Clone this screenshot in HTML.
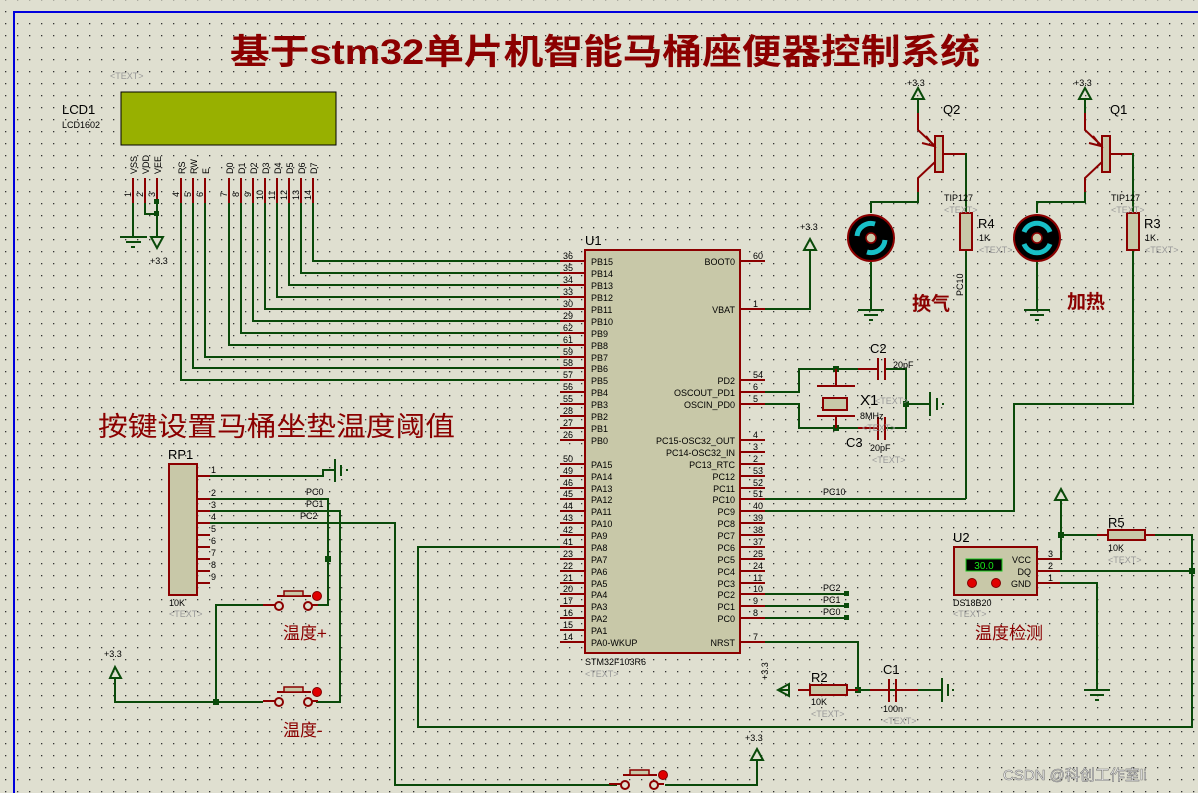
<!DOCTYPE html>
<html><head><meta charset="utf-8">
<style>
html,body{margin:0;padding:0;background:#dfdfd0;}
svg{display:block;font-family:"Liberation Sans","Noto Sans CJK SC",sans-serif;}
.w{stroke:#0a4a0a;stroke-width:2;fill:none}
.p{stroke:#8b0000;stroke-width:2;fill:none}
.t{font-size:9px;fill:#000}
.tx{font-size:9px;fill:#999}
.lb{font-size:13px;fill:#000}
.cn{fill:#8b0000}
</style></head><body>
<svg width="1198" height="793" viewBox="0 0 1198 793" xmlns="http://www.w3.org/2000/svg">
<defs>
<pattern id="g" x="5" y="-1" width="12" height="12" patternUnits="userSpaceOnUse"><rect x="0" y="0" width="1.3" height="1.3" fill="#333"/></pattern>
</defs>
<rect width="1198" height="793" fill="#dfdfd0"/>
<rect width="1198" height="793" fill="url(#g)"/>
<path d="M14 793V12H1198" stroke="#0000dd" stroke-width="2" fill="none"/>

<text x="230" y="64" font-size="35" font-weight="bold" class="cn" textLength="750" lengthAdjust="spacingAndGlyphs">基于stm32单片机智能马桶座便器控制系统</text>
<text x="110" y="79" class="tx" font-size="8">&lt;TEXT&gt;</text>

<text x="62" y="114" class="lb">LCD1</text>
<text x="62" y="128" class="t">LCD1602</text>
<rect x="121" y="92" width="215" height="53" fill="#98b000" stroke="#000" stroke-width="1"/>
<g class="t" font-size="9">
<text transform="translate(137,174) rotate(-90)">VSS</text>
<text transform="translate(149,174) rotate(-90)">VDD</text>
<text transform="translate(161,174) rotate(-90)">VEE</text>
<text transform="translate(185,174) rotate(-90)">RS</text>
<text transform="translate(197,174) rotate(-90)">RW</text>
<text transform="translate(209,174) rotate(-90)">E</text>
<text transform="translate(233,174) rotate(-90)">D0</text>
<text transform="translate(245,174) rotate(-90)">D1</text>
<text transform="translate(257,174) rotate(-90)">D2</text>
<text transform="translate(269,174) rotate(-90)">D3</text>
<text transform="translate(281,174) rotate(-90)">D4</text>
<text transform="translate(293,174) rotate(-90)">D5</text>
<text transform="translate(305,174) rotate(-90)">D6</text>
<text transform="translate(317,174) rotate(-90)">D7</text>
<text transform="translate(131,197) rotate(-90)">1</text>
<text transform="translate(143,197) rotate(-90)">2</text>
<text transform="translate(155,197) rotate(-90)">3</text>
<text transform="translate(179,197) rotate(-90)">4</text>
<text transform="translate(191,197) rotate(-90)">5</text>
<text transform="translate(203,197) rotate(-90)">6</text>
<text transform="translate(227,197) rotate(-90)">7</text>
<text transform="translate(239,197) rotate(-90)">8</text>
<text transform="translate(251,197) rotate(-90)">9</text>
<text transform="translate(263,200) rotate(-90)">10</text>
<text transform="translate(275,200) rotate(-90)">11</text>
<text transform="translate(287,200) rotate(-90)">12</text>
<text transform="translate(299,200) rotate(-90)">13</text>
<text transform="translate(311,200) rotate(-90)">14</text>
</g>
<path class="p" d="M133 178V203M145 178V203M157 178V203M181 178V203M193 178V203M205 178V203M229 178V203M241 178V203M253 178V203M265 178V203M277 178V203M289 178V203M301 178V203M313 178V203"/>
<path class="w" d="M133 203V237M145 203V214H157M157 203V237"/>
<rect x="154" y="199" width="5" height="5" fill="#0a4a0a"/>
<rect x="154" y="211" width="5" height="5" fill="#0a4a0a"/>
<path class="w" d="M120 237H147M126 242H141M131 247H135"/>
<path class="w" d="M151 237H163L157 248Z"/>
<text x="150" y="264" class="t">+3.3</text>
<path class="w" d="M313 203V261H560M301 203V273H560M289 203V285H560M277 203V297H560M265 203V309H560M253 203V321H560M241 203V333H560M229 203V345H560M205 203V357H560M193 203V368H560M181 203V380H560"/>

<text x="585" y="245" class="lb">U1</text>
<rect x="585" y="250" width="155" height="403" fill="#c8c8a8" stroke="#8b0000" stroke-width="2"/>
<g class="p">
<path d="M560 261H585M560 273H585M560 285H585M560 297H585M560 309H585M560 321H585M560 333H585M560 345H585M560 357H585M560 368H585M560 380H585M560 392H585M560 404H585M560 416H585M560 428H585M560 440H585M560 464H585M560 476H585M560 488H585M560 499H585M560 511H585M560 523H585M560 535H585M560 547H585M560 559H585M560 571H585M560 583H585M560 594H585M560 606H585M560 618H585M560 630H585M560 642H585"/>
<path d="M740 261H765M740 309H765M740 380H765M740 392H765M740 404H765M740 440H765M740 452H765M740 464H765M740 476H765M740 488H765M740 499H765M740 511H765M740 523H765M740 535H765M740 547H765M740 559H765M740 571H765M740 583H765M740 594H765M740 606H765M740 618H765M740 642H765"/>
</g>
<g class="t" font-size="9.5">
<text x="591" y="265">PB15</text><text x="591" y="277">PB14</text><text x="591" y="289">PB13</text><text x="591" y="301">PB12</text><text x="591" y="313">PB11</text><text x="591" y="325">PB10</text><text x="591" y="337">PB9</text><text x="591" y="349">PB8</text><text x="591" y="361">PB7</text><text x="591" y="372">PB6</text><text x="591" y="384">PB5</text><text x="591" y="396">PB4</text><text x="591" y="408">PB3</text><text x="591" y="420">PB2</text><text x="591" y="432">PB1</text><text x="591" y="444">PB0</text>
<text x="591" y="468">PA15</text><text x="591" y="480">PA14</text><text x="591" y="492">PA13</text><text x="591" y="503">PA12</text><text x="591" y="515">PA11</text><text x="591" y="527">PA10</text><text x="591" y="539">PA9</text><text x="591" y="551">PA8</text><text x="591" y="563">PA7</text><text x="591" y="575">PA6</text><text x="591" y="587">PA5</text><text x="591" y="598">PA4</text><text x="591" y="610">PA3</text><text x="591" y="622">PA2</text><text x="591" y="634">PA1</text><text x="591" y="646">PA0-WKUP</text>
</g>
<g class="t" font-size="9.5" text-anchor="end">
<text x="735" y="265">BOOT0</text><text x="735" y="313">VBAT</text><text x="735" y="384">PD2</text><text x="735" y="396">OSCOUT_PD1</text><text x="735" y="408">OSCIN_PD0</text>
<text x="735" y="444">PC15-OSC32_OUT</text><text x="735" y="456">PC14-OSC32_IN</text><text x="735" y="468">PC13_RTC</text><text x="735" y="480">PC12</text><text x="735" y="492">PC11</text><text x="735" y="503">PC10</text><text x="735" y="515">PC9</text><text x="735" y="527">PC8</text><text x="735" y="539">PC7</text><text x="735" y="551">PC6</text><text x="735" y="563">PC5</text><text x="735" y="575">PC4</text><text x="735" y="587">PC3</text><text x="735" y="598">PC2</text><text x="735" y="610">PC1</text><text x="735" y="622">PC0</text><text x="735" y="646">NRST</text>
</g>
<g class="t" font-size="9">
<text x="563" y="259">36</text><text x="563" y="271">35</text><text x="563" y="283">34</text><text x="563" y="295">33</text><text x="563" y="307">30</text><text x="563" y="319">29</text><text x="563" y="331">62</text><text x="563" y="343">61</text><text x="563" y="355">59</text><text x="563" y="366">58</text><text x="563" y="378">57</text><text x="563" y="390">56</text><text x="563" y="402">55</text><text x="563" y="414">28</text><text x="563" y="426">27</text><text x="563" y="438">26</text>
<text x="563" y="462">50</text><text x="563" y="474">49</text><text x="563" y="486">46</text><text x="563" y="497">45</text><text x="563" y="509">44</text><text x="563" y="521">43</text><text x="563" y="533">42</text><text x="563" y="545">41</text><text x="563" y="557">23</text><text x="563" y="569">22</text><text x="563" y="581">21</text><text x="563" y="592">20</text><text x="563" y="604">17</text><text x="563" y="616">16</text><text x="563" y="628">15</text><text x="563" y="640">14</text>
<text x="753" y="259">60</text><text x="753" y="307">1</text><text x="753" y="378">54</text><text x="753" y="390">6</text><text x="753" y="402">5</text>
<text x="753" y="438">4</text><text x="753" y="450">3</text><text x="753" y="462">2</text><text x="753" y="474">53</text><text x="753" y="486">52</text><text x="753" y="497">51</text><text x="753" y="509">40</text><text x="753" y="521">39</text><text x="753" y="533">38</text><text x="753" y="545">37</text><text x="753" y="557">25</text><text x="753" y="569">24</text><text x="753" y="581">11</text><text x="753" y="592">10</text><text x="753" y="604">9</text><text x="753" y="616">8</text><text x="753" y="640">7</text>
</g>
<text x="585" y="665" class="t">STM32F103R6</text>
<text x="585" y="677" class="tx">&lt;TEXT&gt;</text>

<path class="w" d="M765 309H810V250M804 250H816L810 239Z"/>
<text x="800" y="230" class="t" font-size="8">+3.3</text>

<path class="w" d="M765 392H799V369H858M765 404H799V428H858M885 369H906V428H885M906 404H930M930 392V416M937 398V410"/>
<rect x="942" y="403" width="2" height="2" fill="#0a4a0a"/>
<rect x="833" y="366" width="6" height="6" fill="#0a4a0a"/>
<rect x="833" y="425" width="6" height="6" fill="#0a4a0a"/>
<rect x="903" y="401" width="6" height="6" fill="#0a4a0a"/>
<path class="p" d="M836 369V385M817 386H855M817 416H855M836 416V428M858 369H878M878 358V380M885 358V380M858 428H878M878 417V440M885 417V440"/>
<rect x="823" y="398" width="24" height="12" fill="#c8c8a8" stroke="#8b0000" stroke-width="2"/>
<text x="870" y="353" class="lb">C2</text><text x="893" y="368" class="t">20pF</text>
<text x="860" y="405" font-size="15" fill="#000">X1</text><text x="875" y="404" class="tx">&lt;TEXT&gt;</text>
<text x="860" y="419" class="t">8MHz</text><text x="862" y="431" class="tx">&lt;TEXT&gt;</text>
<text x="846" y="447" class="lb">C3</text><text x="870" y="451" class="t">20pF</text><text x="872" y="463" class="tx">&lt;TEXT&gt;</text>

<g>
<path class="w" d="M918 113V99M912 99H924L918 88Z"/>
<text x="907" y="86" class="t" font-size="8">+3.3</text>
<text x="943" y="114" class="lb">Q2</text>
<rect x="935" y="136" width="8" height="36" fill="#c8c8a8" stroke="#8b0000" stroke-width="2"/>
<path class="p" d="M935 146L918 130V113M935 162L918 178V192M943 154H965M926 136L934 146L922 143"/>
<path class="w" d="M918 192V202H871V213M965 154H966V213M966 250V499"/>
<rect x="960" y="213" width="12" height="37" fill="#c8c8a8" stroke="#8b0000" stroke-width="2"/>
<text x="944" y="201" class="t">TIP127</text><text x="944" y="213" class="tx">&lt;TEXT&gt;</text>
<text x="978" y="228" class="lb">R4</text><text x="979" y="241" class="t" font-size="8">1K</text><text x="979" y="253" class="tx">&lt;TEXT&gt;</text>
<circle cx="871" cy="238" r="23" fill="#000" stroke="#8b0000" stroke-width="2"/>
<path d="M857 236A14 14 0 0 1 875 224M885 240A14 14 0 0 1 867 252" stroke="#18c0c8" stroke-width="5" fill="none"/>
<circle cx="871" cy="238" r="5" fill="#c8c8a8" stroke="#8b0000" stroke-width="1.5"/>
<path class="w" d="M871 262V310M858 310H884M864 315H878M869 320H873"/>
<text x="912" y="310" font-size="19" font-weight="bold" class="cn">换气</text>
<text transform="translate(963,296) rotate(-90)" class="t">PC10</text>
</g>
<g>
<path class="w" d="M1085 113V99M1079 99H1091L1085 88Z"/>
<text x="1074" y="86" class="t" font-size="8">+3.3</text>
<text x="1110" y="114" class="lb">Q1</text>
<rect x="1102" y="136" width="8" height="36" fill="#c8c8a8" stroke="#8b0000" stroke-width="2"/>
<path class="p" d="M1102 146L1085 130V113M1102 162L1085 178V192M1110 154H1132M1093 136L1101 146L1089 143"/>
<path class="w" d="M1085 192V202H1037V213M1132 154H1133V213M1133 250V404H1014V511H765"/>
<rect x="1127" y="213" width="12" height="37" fill="#c8c8a8" stroke="#8b0000" stroke-width="2"/>
<text x="1111" y="201" class="t">TIP127</text><text x="1111" y="213" class="tx">&lt;TEXT&gt;</text>
<text x="1144" y="228" class="lb">R3</text><text x="1145" y="241" class="t" font-size="8">1K</text><text x="1145" y="253" class="tx">&lt;TEXT&gt;</text>
<circle cx="1037" cy="238" r="23" fill="#000" stroke="#8b0000" stroke-width="2"/>
<path d="M1024 232A14 14 0 0 1 1050 232M1050 244A14 14 0 0 1 1024 244" stroke="#18c0c8" stroke-width="5" fill="none"/>
<circle cx="1037" cy="238" r="5" fill="#c8c8a8" stroke="#8b0000" stroke-width="1.5"/>
<path class="w" d="M1037 262V310M1024 310H1050M1030 315H1044M1035 320H1039"/>
<text x="1067" y="308" font-size="19" font-weight="bold" class="cn">加热</text>
</g>
<path class="w" d="M765 499H966"/>
<text x="823" y="495" class="t">PC10</text>

<path class="w" d="M765 594H847M765 606H847M765 618H847"/>
<rect x="844" y="591" width="5" height="5" fill="#0a4a0a"/><rect x="844" y="603" width="5" height="5" fill="#0a4a0a"/><rect x="844" y="615" width="5" height="5" fill="#0a4a0a"/>
<text x="823" y="591" class="t">PC2</text><text x="823" y="603" class="t">PC1</text><text x="823" y="615" class="t">PC0</text>

<path class="w" d="M765 642H858V690M858 690H896M778 690H789M896 690H942M942 678V702M948 684V696"/>
<path class="w" d="M789 684V696L778 690Z" />
<rect x="952" y="689" width="2" height="2" fill="#0a4a0a"/>
<rect x="855" y="687" width="6" height="6" fill="#0a4a0a"/>
<path class="p" d="M798 690H810M847 690H858M870 690H889M889 679V702M896 679V702M896 690H918"/>
<rect x="810" y="685" width="37" height="10" fill="#c8c8a8" stroke="#8b0000" stroke-width="2"/>
<text transform="translate(768,680) rotate(-90)" class="t" font-size="8">+3.3</text>
<text x="811" y="682" class="lb">R2</text><text x="811" y="705" class="t" font-size="8">10K</text><text x="811" y="717" class="tx">&lt;TEXT&gt;</text>
<text x="883" y="674" class="lb">C1</text><text x="883" y="712" class="t" font-size="8">100n</text><text x="883" y="724" class="tx">&lt;TEXT&gt;</text>

<text x="953" y="542" class="lb">U2</text>
<rect x="954" y="547" width="83" height="48" fill="#c8c8a8" stroke="#8b0000" stroke-width="2"/>
<rect x="966" y="559" width="36" height="12" fill="#000" stroke="#18c818" stroke-width="1"/>
<text x="984" y="569" font-size="10" fill="#18e818" text-anchor="middle">30.0</text>
<circle cx="972" cy="583" r="4.5" fill="#e00000" stroke="#800000"/><circle cx="996" cy="583" r="4.5" fill="#e00000" stroke="#800000"/>
<g class="t" font-size="9.5" text-anchor="end"><text x="1031" y="563">VCC</text><text x="1031" y="575">DQ</text><text x="1031" y="587">GND</text></g>
<g class="t"><text x="1048" y="557">3</text><text x="1048" y="569">2</text><text x="1048" y="581">1</text></g>
<path class="p" d="M1037 559H1060M1037 571H1060M1037 583H1060M1097 535H1108M1145 535H1155"/>
<rect x="1108" y="530" width="37" height="10" fill="#c8c8a8" stroke="#8b0000" stroke-width="2"/>
<path class="w" d="M1060 559H1061V500M1055 500H1067L1061 489ZM1061 535H1097M1155 535H1192V727H418V547H560M1060 571H1192M1060 583H1097V690M1084 690H1110M1090 695H1104M1095 700H1099"/>
<rect x="1058" y="532" width="6" height="6" fill="#0a4a0a"/><rect x="1189" y="568" width="6" height="6" fill="#0a4a0a"/>
<text x="1108" y="527" class="lb">R5</text><text x="1108" y="551" class="t" font-size="8">10K</text><text x="1108" y="563" class="tx">&lt;TEXT&gt;</text>
<text x="953" y="606" class="t">DS18B20</text><text x="953" y="617" class="tx">&lt;TEXT&gt;</text>
<text x="975" y="639" font-size="17" class="cn">温度检测</text>

<text x="98" y="436" font-size="27" class="cn" textLength="357" lengthAdjust="spacingAndGlyphs">按键设置马桶坐垫温度阈值</text>
<text x="168" y="459" class="lb">RP1</text>
<rect x="169" y="464" width="28" height="131" fill="#c8c8a8" stroke="#8b0000" stroke-width="2"/>
<path class="p" d="M197 476H210M197 499H210M197 511H210M197 523H210M197 535H210M197 547H210M197 559H210M197 571H210M197 583H210"/>
<g class="t"><text x="211" y="473">1</text><text x="211" y="496">2</text><text x="211" y="508">3</text><text x="211" y="520">4</text><text x="211" y="532">5</text><text x="211" y="544">6</text><text x="211" y="556">7</text><text x="211" y="568">8</text><text x="211" y="580">9</text></g>
<text x="169" y="606" class="t">10K</text><text x="169" y="617" class="tx">&lt;TEXT&gt;</text>
<path class="w" d="M210 476H323V470H335M335 459V482M341 465V476M210 499H328V605H316M210 511H340V702H316M210 523H395V785H617M115 678V702H263M216 702V605H263M665 785H757V760M110 678H121L115 667ZM751 760H763L757 749Z"/>
<rect x="346" y="469" width="2" height="2" fill="#0a4a0a"/>
<rect x="325" y="556" width="6" height="6" fill="#0a4a0a"/><rect x="213" y="699" width="6" height="6" fill="#0a4a0a"/>
<text x="306" y="495" class="t">PC0</text><text x="306" y="507" class="t">PC1</text><text x="300" y="519" class="t">PC2</text>
<text x="104" y="657" class="t" font-size="8">+3.3</text>
<text x="745" y="741" class="t" font-size="8">+3.3</text>
<g>
<path class="p" d="M263 605H275M312 605H318M277 596H311"/>
<circle cx="279" cy="606" r="4" fill="none" stroke="#8b0000" stroke-width="2"/><circle cx="308" cy="606" r="4" fill="none" stroke="#8b0000" stroke-width="2"/>
<rect x="284" y="591" width="19" height="5" fill="#c8c8a8" stroke="#8b0000" stroke-width="1.5"/>
<circle cx="317" cy="596" r="4.5" fill="#e00000" stroke="#800000"/>
</g>
<g transform="translate(0,96)">
<path class="p" d="M263 605H275M312 605H318M277 596H311"/>
<circle cx="279" cy="606" r="4" fill="none" stroke="#8b0000" stroke-width="2"/><circle cx="308" cy="606" r="4" fill="none" stroke="#8b0000" stroke-width="2"/>
<rect x="284" y="591" width="19" height="5" fill="#c8c8a8" stroke="#8b0000" stroke-width="1.5"/>
<circle cx="317" cy="596" r="4.5" fill="#e00000" stroke="#800000"/>
</g>
<g transform="translate(346,179)">
<path class="p" d="M263 605H275M312 605H318M277 596H311"/>
<circle cx="279" cy="606" r="4" fill="none" stroke="#8b0000" stroke-width="2"/><circle cx="308" cy="606" r="4" fill="none" stroke="#8b0000" stroke-width="2"/>
<rect x="284" y="591" width="19" height="5" fill="#c8c8a8" stroke="#8b0000" stroke-width="1.5"/>
<circle cx="317" cy="596" r="4.5" fill="#e00000" stroke="#800000"/>
</g>
<text x="283" y="639" font-size="17" class="cn">温度+</text>
<text x="283" y="736" font-size="17" class="cn">温度-</text>

<text x="1003" y="780" font-size="15" fill="#ffffff" stroke="#777" stroke-width="0.6">CSDN @科创工作室li</text>
</svg>
</body></html>
